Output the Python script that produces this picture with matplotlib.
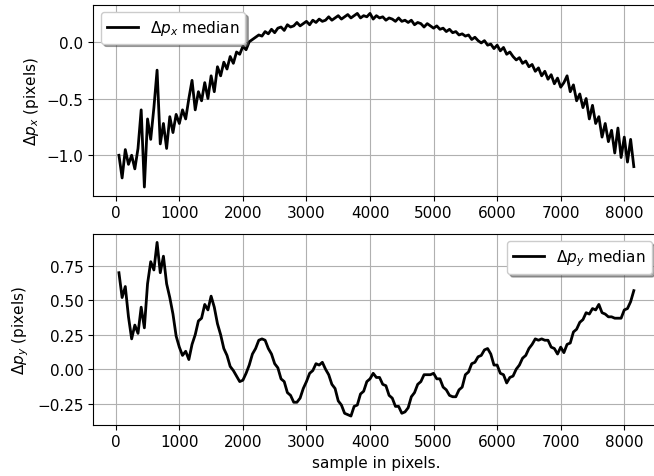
import numpy as np
import matplotlib
matplotlib.use('Agg')
import matplotlib.pyplot as plt

plt.rcParams['font.size'] = 11

# sample positions (pixels)
samples = np.arange(50, 8200, 50)

# median x offset per sample
dpx = [-1.00, -1.20, -0.95, -1.08, -1.00, -1.12, -0.94, -0.60, -1.28, -0.68,
       -0.86, -0.58, -0.25, -0.90, -0.72, -0.94, -0.66, -0.80, -0.64, -0.72,
       -0.60, -0.68, -0.50, -0.34, -0.60, -0.44, -0.52, -0.36, -0.50, -0.30,
       -0.44, -0.22, -0.30, -0.18, -0.24, -0.13, -0.19, -0.09, -0.11, -0.04,
       -0.07, 0.00, 0.02, 0.04, 0.06, 0.05, 0.09, 0.07, 0.11, 0.08,
       0.12, 0.13, 0.10, 0.15, 0.13, 0.14, 0.17, 0.14, 0.16, 0.18,
       0.15, 0.19, 0.17, 0.20, 0.18, 0.19, 0.22, 0.19, 0.21, 0.23,
       0.20, 0.22, 0.24, 0.21, 0.23, 0.25, 0.21, 0.23, 0.22, 0.25,
       0.20, 0.23, 0.21, 0.22, 0.19, 0.21, 0.20, 0.18, 0.21, 0.18,
       0.19, 0.17, 0.19, 0.15, 0.17, 0.16, 0.13, 0.16, 0.14, 0.12,
       0.14, 0.11, 0.12, 0.09, 0.11, 0.08, 0.09, 0.06, 0.07, 0.05,
       0.06, 0.02, 0.04, 0.01, -0.01, 0.01, -0.03, -0.02, -0.06, -0.03,
       -0.08, -0.05, -0.11, -0.09, -0.13, -0.16, -0.14, -0.19, -0.17, -0.22,
       -0.20, -0.26, -0.23, -0.30, -0.26, -0.33, -0.29, -0.37, -0.32, -0.40,
       -0.36, -0.30, -0.44, -0.38, -0.52, -0.46, -0.58, -0.50, -0.68, -0.56,
       -0.72, -0.66, -0.84, -0.72, -0.88, -0.78, -0.98, -0.76, -1.02, -0.84,
       -1.06, -0.86, -1.10]

# median y offset per sample
dpy = [0.70, 0.52, 0.60, 0.38, 0.22, 0.32, 0.26, 0.45, 0.30, 0.62,
       0.78, 0.72, 0.92, 0.70, 0.82, 0.62, 0.52, 0.40, 0.24, 0.16,
       0.10, 0.13, 0.07, 0.18, 0.25, 0.35, 0.37, 0.47, 0.43, 0.53,
       0.45, 0.33, 0.25, 0.15, 0.10, 0.02, -0.01, -0.05, -0.09, -0.08,
       -0.03, 0.03, 0.11, 0.15, 0.21, 0.22, 0.21, 0.15, 0.11, 0.04,
       0.01, -0.07, -0.09, -0.17, -0.19, -0.24, -0.24, -0.21, -0.14, -0.09,
       -0.03, -0.01, 0.04, 0.03, 0.05, 0.00, -0.04, -0.11, -0.14, -0.23,
       -0.26, -0.32, -0.33, -0.34, -0.27, -0.26, -0.18, -0.16, -0.09, -0.07,
       -0.03, -0.06, -0.06, -0.11, -0.12, -0.19, -0.21, -0.27, -0.27, -0.32,
       -0.31, -0.28, -0.20, -0.17, -0.11, -0.09, -0.04, -0.04, -0.04, -0.03,
       -0.07, -0.07, -0.13, -0.15, -0.19, -0.20, -0.20, -0.15, -0.13, -0.04,
       -0.02, 0.04, 0.05, 0.09, 0.10, 0.14, 0.15, 0.11, 0.03, 0.03,
       -0.03, -0.04, -0.10, -0.06, -0.05, 0.00, 0.03, 0.08, 0.10, 0.15,
       0.18, 0.22, 0.21, 0.22, 0.21, 0.21, 0.16, 0.15, 0.11, 0.16,
       0.12, 0.18, 0.19, 0.27, 0.29, 0.34, 0.36, 0.41, 0.40, 0.44,
       0.43, 0.47, 0.41, 0.40, 0.38, 0.38, 0.37, 0.37, 0.37, 0.43,
       0.44, 0.49, 0.57]

fig = plt.figure(figsize=(6.54, 4.77), dpi=100)

ax1 = fig.add_axes([0.1425, 0.5876, 0.866, 0.4004])
ax1.plot(samples, dpx, color='k', lw=2, label=r'$\Delta p_x$ median')
ax1.set_ylabel(r'$\Delta p_x$ (pixels)')
ax1.grid(True)
ax1.legend(loc='upper left', shadow=True)

ax2 = fig.add_axes([0.1425, 0.1075, 0.866, 0.4004])
ax2.plot(samples, dpy, color='k', lw=2, label=r'$\Delta p_y$ median')
ax2.set_ylabel(r'$\Delta p_y$ (pixels)')
ax2.set_xlabel('sample in pixels.')
ax2.grid(True)
ax2.legend(loc='upper right', shadow=True)

fig.savefig('out.png', dpi=100)
